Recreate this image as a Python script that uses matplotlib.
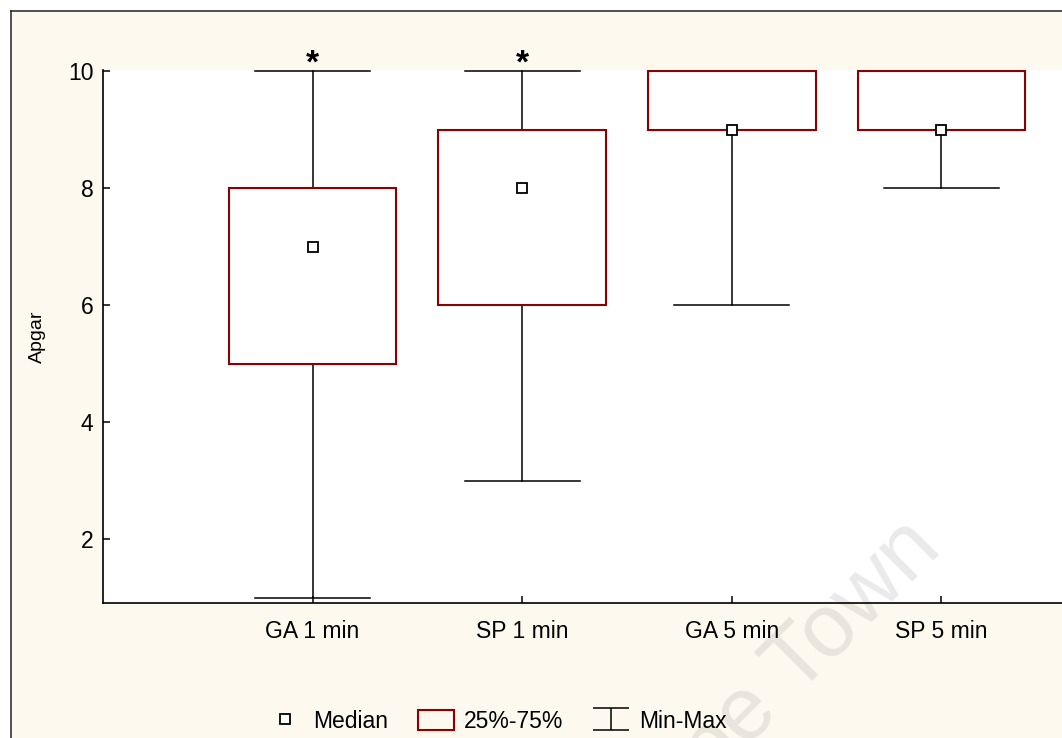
import numpy as np
import matplotlib
matplotlib.use("Agg")
import matplotlib.pyplot as plt
from matplotlib.lines import Line2D
from matplotlib.patches import Patch, Rectangle
from matplotlib.path import Path

plt.rcParams['font.family'] = ['Liberation Sans', 'DejaVu Sans']

# data
groups = ['GA 1 min', 'SP 1 min', 'GA 5 min', 'SP 5 min']
mins = [1, 3, 6, 8]
q1 = [5, 6, 9, 9]
medians = [7, 8, 9, 9]
q3 = [8, 9, 10, 10]
maxs = [10, 10, 10, 10]
starred = ['GA 1 min', 'SP 1 min']

cream = '#fdf9ef'
box_red = '#8b0000'

fig = plt.figure(figsize=(10.62, 7.38), dpi=100)
fig.patch.set_facecolor('white')
W, H = 1062, 738
# cream panel with black frame (left and top edges visible)
fig.patches.append(Rectangle((11 / W, 0), 1 - 11 / W, 1 - 11 / H, transform=fig.transFigure,
                             facecolor=cream, edgecolor='none', zorder=-10))
fig.lines.append(Line2D([11 / W, 11 / W], [0, 1 - 11 / H], transform=fig.transFigure, color='#222222', lw=1.1))
fig.lines.append(Line2D([11 / W, 1], [1 - 11 / H, 1 - 11 / H], transform=fig.transFigure, color='#222222', lw=1.1))

ax = fig.add_axes([103 / W, 1 - 603 / H, 1 - 103 / W, (603 - 70) / H])
ax.set_facecolor('white')

pos = np.arange(1, len(groups) + 1)
stats = []
for i, g in enumerate(groups):
    stats.append(dict(label=g, whislo=mins[i], q1=q1[i], med=medians[i], q3=q3[i], whishi=maxs[i], fliers=[]))

ax.bxp(stats, positions=pos, widths=0.8, capwidths=0.55, patch_artist=True, showfliers=False,
       boxprops=dict(facecolor='white', edgecolor=box_red, linewidth=1.5, zorder=3),
       whiskerprops=dict(color='black', linewidth=1.1, zorder=2),
       capprops=dict(color='black', linewidth=1.1, zorder=2),
       medianprops=dict(visible=False))
ax.plot(pos, medians, 's', ms=7, mfc='white', mec='black', mew=1.3, zorder=5, clip_on=False)

for i, g in enumerate(groups):
    if g in starred:
        ax.text(pos[i], maxs[i] + 0.12, '*', ha='center', va='center', fontsize=24, fontweight='bold',
                clip_on=False)

ax.set_xlim(0, (W - 103.5) / 209.5)
ax.set_ylim(0.909, 10.02)
ax.set_yticks([2, 4, 6, 8, 10])
ax.set_xticks(pos)
ax.set_xticklabels(groups)
ax.tick_params(axis='both', direction='in', length=5, width=1.1, labelsize=16.5, colors='black')
ax.tick_params(axis='y', pad=7)
ax.tick_params(axis='x', pad=12)
for s in ['top', 'right']:
    ax.spines[s].set_visible(False)
for s in ['left', 'bottom']:
    ax.spines[s].set_linewidth(1.2)
    ax.spines[s].set_color('black')

fig.text(37 / W, 1 - 337 / H, 'Apgar', rotation=90, ha='center', va='center', fontsize=14)

# legend
ibeam = Path([(-1, 0.6), (1, 0.6), (0, 0.6), (0, -0.6), (-1, -0.6), (1, -0.6)],
             [Path.MOVETO, Path.LINETO, Path.MOVETO, Path.LINETO, Path.MOVETO, Path.LINETO])
handles = [
    Line2D([], [], ls='none', marker='s', ms=6.5, mfc='white', mec='black', mew=1.3),
    Patch(facecolor=cream, edgecolor=box_red, linewidth=1.5),
    Line2D([], [], ls='none', marker=ibeam, ms=26, mfc='none', mec='black', mew=1.1),
]
fig.legend(handles, ['Median', '25%-75%', 'Min-Max'], loc='center', bbox_to_anchor=(497 / W, 1 - 721 / H),
           ncol=3, frameon=False, fontsize=16.5, handlelength=1.55, handleheight=0.95,
           handletextpad=0.45, columnspacing=1.3, borderpad=0)

# faint watermark, under the axis lines
ax.text(944 / W, 1 - 551 / H, 'Cape Town', transform=fig.transFigure, rotation=45, ha='right',
        va='baseline', fontsize=64, color='#808080', alpha=0.17, rotation_mode='anchor',
        zorder=1, clip_on=False)

fig.savefig('out.png', dpi=100, facecolor=fig.get_facecolor())
